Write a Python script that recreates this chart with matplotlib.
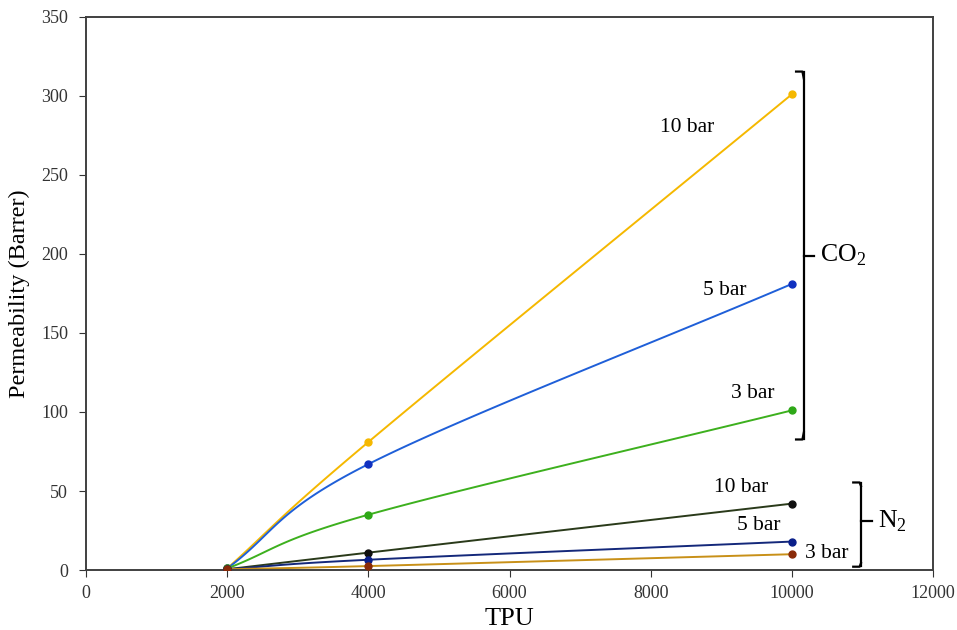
import matplotlib
matplotlib.use("Agg")
import matplotlib.pyplot as plt
import numpy as np

plt.rcParams['font.family'] = ['Liberation Serif', 'DejaVu Serif']
plt.rcParams['mathtext.fontset'] = 'custom'
plt.rcParams['mathtext.rm'] = 'Liberation Serif'

tpu = [2000, 4000, 10000]
co2_10 = [1, 81, 301]
co2_5 = [1, 67, 181]
co2_3 = [1, 35, 101]
n2_10 = [0.5, 11, 42]
n2_5 = [0.5, 6.5, 18]
n2_3 = [0.5, 2.5, 10]

series = [
    (co2_10, "#F5B800", "#F5B800"),
    (co2_5, "#1F5FD8", "#1030C0"),
    (co2_3, "#3DB01E", "#2EA817"),
    (n2_10, "#2A3A1A", "#101010"),
    (n2_5, "#14287A", "#0A1F8A"),
    (n2_3, "#C89018", "#8A2A08"),
]


def smooth(x, y, n=60):
    # catmull-rom style curve through the points (like excel smoothed lines)
    x = np.asarray(x, float)
    y = np.asarray(y, float)
    px = np.concatenate([[2 * x[0] - x[1]], x, [2 * x[-1] - x[-2]]])
    py = np.concatenate([[2 * y[0] - y[1]], y, [2 * y[-1] - y[-2]]])
    xs, ys = [], []
    for i in range(1, len(px) - 2):
        t = np.linspace(0, 1, n)
        for p, out in ((px, xs), (py, ys)):
            p0, p1, p2, p3 = p[i - 1], p[i], p[i + 1], p[i + 2]
            out.extend(0.5 * ((2 * p1) + (-p0 + p2) * t
                              + (2 * p0 - 5 * p1 + 4 * p2 - p3) * t ** 2
                              + (-p0 + 3 * p1 - 3 * p2 + p3) * t ** 3))
    return np.array(xs), np.array(ys)


fig = plt.figure(figsize=(9.57, 6.3), dpi=100)
ax = fig.add_axes([0.0899, 0.0952, 0.885, 0.878])

for vals, lc, mc in series:
    sx, sy = smooth(tpu, vals)
    ax.plot(sx, sy, color=lc, lw=1.4, zorder=2)
    ax.plot(tpu, vals, 'o', color=mc, ms=5, zorder=3)

ax.set_xlim(0, 12000)
ax.set_ylim(0, 350)
ax.set_xticks(np.arange(0, 12001, 2000))
ax.set_yticks(np.arange(0, 351, 50))
ax.tick_params(labelsize=13, colors="#333333", direction='out', length=5)
ax.tick_params(axis='x', pad=6)
ax.tick_params(axis='y', pad=8)
for s in ax.spines.values():
    s.set_color("#404040")
    s.set_linewidth(1.4)

ax.set_xlabel("TPU", fontsize=19, labelpad=4)
ax.set_ylabel("Permeability (Barrer)", fontsize=17.5, labelpad=8)

labels = [("10 bar", 8520, 280), ("5 bar", 9050, 177), ("3 bar", 9440, 112),
          ("10 bar", 9280, 52), ("5 bar", 9530, 28), ("3 bar", 10500, 10.5)]
for txt, x, y in labels:
    ax.text(x, y, txt, fontsize=15.5, ha='center', va='center')


def bracket(x, y0, y1, ym, hook=110, tip=150):
    k = 'k'
    ax.plot([x, x], [y0, y1], color=k, lw=1.6, clip_on=False)
    r = (y1 - y0) * 0.012 + 1.2
    ax.plot([x - hook, x - 20, x], [y1 + 0.4, y1 + 0.4, y1 - r], color=k, lw=1.6, clip_on=False)
    ax.plot([x - hook, x - 20, x], [y0 - 0.4, y0 - 0.4, y0 + r], color=k, lw=1.6, clip_on=False)
    ax.plot([x, x + tip], [ym, ym], color=k, lw=1.6, clip_on=False)


bracket(10170, 83, 315, 199)
bracket(10980, 2.5, 55, 31)
ax.text(10400, 199, r"CO$_\mathrm{2}$", fontsize=18.5, va='center', ha='left')
ax.text(11220, 31, r"N$_\mathrm{2}$", fontsize=18.5, va='center', ha='left')

fig.savefig("out.png", dpi=100)
